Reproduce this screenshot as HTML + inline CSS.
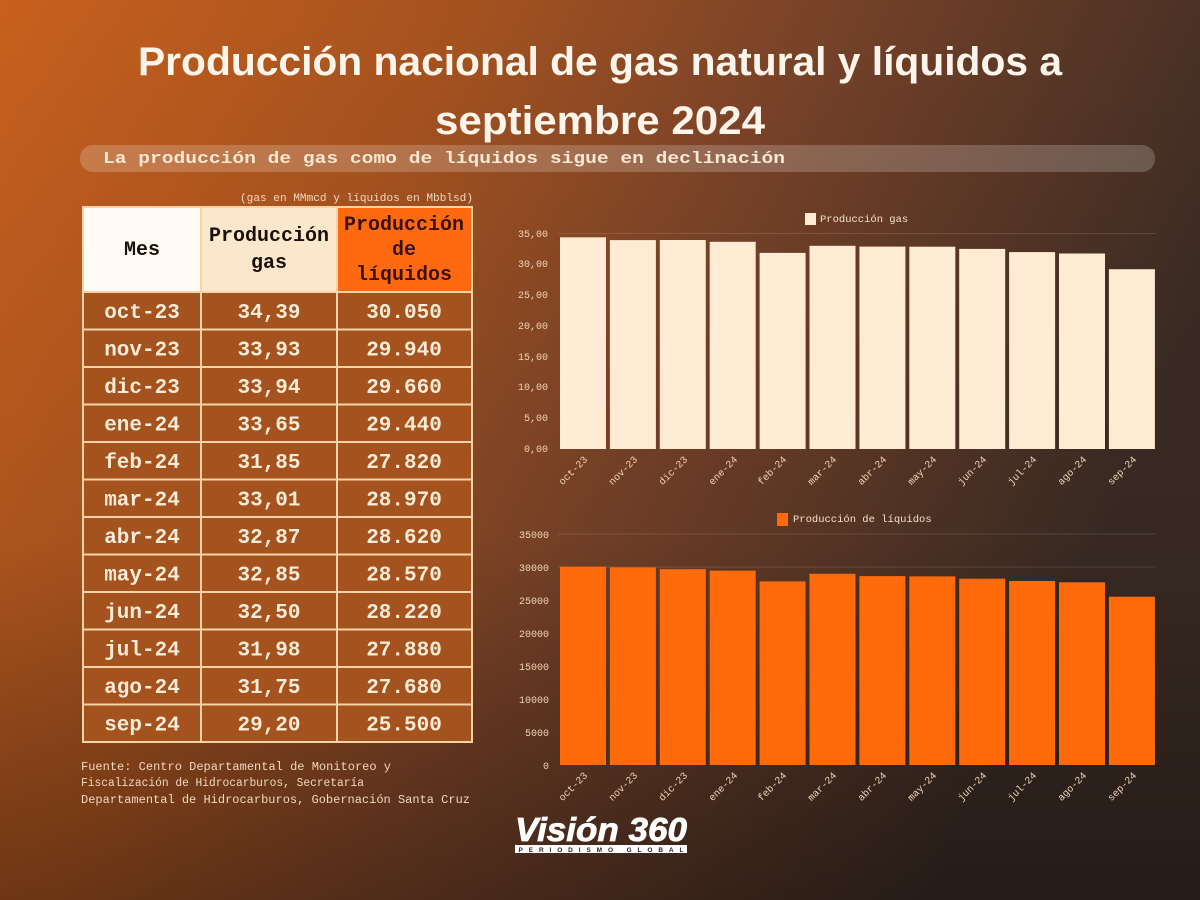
<!DOCTYPE html>
<html><head><meta charset="utf-8"><style>
html,body{margin:0;padding:0;width:1200px;height:900px;overflow:hidden;background:#6a3a20}
svg{display:block}
.m{font-family:"Liberation Mono",monospace}
</style></head><body>
<svg width="1200" height="900" viewBox="0 0 1200 900" xmlns="http://www.w3.org/2000/svg">
<defs>
<linearGradient id="bg" x1="0" y1="0" x2="1" y2="0.35">
<stop offset="0" stop-color="#c8601e"/>
<stop offset="0.35" stop-color="#a5521f"/>
<stop offset="0.6" stop-color="#7a4328"/>
<stop offset="1" stop-color="#3a2b24"/>
</linearGradient>
<linearGradient id="bg2" x1="0" y1="0" x2="0" y2="1">
<stop offset="0" stop-color="#000" stop-opacity="0"/>
<stop offset="0.6" stop-color="#000" stop-opacity="0.05"/>
<stop offset="1" stop-color="#000" stop-opacity="0.35"/>
</linearGradient>
</defs>
<rect width="1200" height="900" fill="url(#bg)"/>
<rect width="1200" height="900" fill="url(#bg2)"/>

<g font-family="'Liberation Sans Narrow','Liberation Sans',sans-serif" font-weight="bold" fill="#fff5ea" font-size="40" text-anchor="middle">
<text x="600" y="75" textLength="924" lengthAdjust="spacingAndGlyphs">Producción nacional de gas natural y líquidos a</text>
<text x="600" y="134" textLength="330" lengthAdjust="spacingAndGlyphs">septiembre 2024</text>
</g>
<rect x="80" y="145" width="1075" height="27" rx="13" fill="#ffffff" fill-opacity="0.2"/>
<text class="m" x="103" y="163" font-size="17" font-weight="bold" fill="#fbe8d2" textLength="682" lengthAdjust="spacingAndGlyphs">La producción de gas como de líquidos sigue en declinación</text>
<text class="m" x="473" y="201" font-size="11" fill="#f4d9bf" text-anchor="end" textLength="233" lengthAdjust="spacingAndGlyphs">(gas en MMmcd y líquidos en Mbblsd)</text>

<!-- table -->
<g>
<rect x="82" y="206" width="391" height="537" fill="#f6d4a6"/>
<rect x="84" y="208" width="116" height="83" fill="#fffaf3"/>
<rect x="202" y="208" width="134" height="83" fill="#fbe7cc"/>
<rect x="338" y="208" width="133" height="83" fill="#ff6a10"/>
<g class="m" font-weight="bold" font-size="20" text-anchor="middle" fill="#1a1008">
<text x="142" y="255">Mes</text>
<text x="269" y="241">Producción</text>
<text x="269" y="268">gas</text>
<text x="404" y="230" fill="#3a1205">Producción</text>
<text x="404" y="255" fill="#3a1205">de</text>
<text x="404" y="280" fill="#3a1205">líquidos</text>
</g>
<g fill="#a4521e">
<rect x="84" y="293" width="116" height="35.5"/><rect x="202" y="293" width="134" height="35.5"/><rect x="338" y="293" width="133" height="35.5"/>
<rect x="84" y="330.5" width="116" height="35.5"/><rect x="202" y="330.5" width="134" height="35.5"/><rect x="338" y="330.5" width="133" height="35.5"/>
<rect x="84" y="368" width="116" height="35.5"/><rect x="202" y="368" width="134" height="35.5"/><rect x="338" y="368" width="133" height="35.5"/>
<rect x="84" y="405.5" width="116" height="35.5"/><rect x="202" y="405.5" width="134" height="35.5"/><rect x="338" y="405.5" width="133" height="35.5"/>
<rect x="84" y="443" width="116" height="35.5"/><rect x="202" y="443" width="134" height="35.5"/><rect x="338" y="443" width="133" height="35.5"/>
<rect x="84" y="480.5" width="116" height="35.5"/><rect x="202" y="480.5" width="134" height="35.5"/><rect x="338" y="480.5" width="133" height="35.5"/>
<rect x="84" y="518" width="116" height="35.5"/><rect x="202" y="518" width="134" height="35.5"/><rect x="338" y="518" width="133" height="35.5"/>
<rect x="84" y="555.5" width="116" height="35.5"/><rect x="202" y="555.5" width="134" height="35.5"/><rect x="338" y="555.5" width="133" height="35.5"/>
<rect x="84" y="593" width="116" height="35.5"/><rect x="202" y="593" width="134" height="35.5"/><rect x="338" y="593" width="133" height="35.5"/>
<rect x="84" y="630.5" width="116" height="35.5"/><rect x="202" y="630.5" width="134" height="35.5"/><rect x="338" y="630.5" width="133" height="35.5"/>
<rect x="84" y="668" width="116" height="35.5"/><rect x="202" y="668" width="134" height="35.5"/><rect x="338" y="668" width="133" height="35.5"/>
<rect x="84" y="705.5" width="116" height="35.5"/><rect x="202" y="705.5" width="134" height="35.5"/><rect x="338" y="705.5" width="133" height="35.5"/>
</g>
<g class="m" font-weight="bold" font-size="21" text-anchor="middle" fill="#fcebd6">
<text x="142" y="318">oct-23</text><text x="269" y="318">34,39</text><text x="404" y="318">30.050</text>
<text x="142" y="355.5">nov-23</text><text x="269" y="355.5">33,93</text><text x="404" y="355.5">29.940</text>
<text x="142" y="393">dic-23</text><text x="269" y="393">33,94</text><text x="404" y="393">29.660</text>
<text x="142" y="430.5">ene-24</text><text x="269" y="430.5">33,65</text><text x="404" y="430.5">29.440</text>
<text x="142" y="468">feb-24</text><text x="269" y="468">31,85</text><text x="404" y="468">27.820</text>
<text x="142" y="505.5">mar-24</text><text x="269" y="505.5">33,01</text><text x="404" y="505.5">28.970</text>
<text x="142" y="543">abr-24</text><text x="269" y="543">32,87</text><text x="404" y="543">28.620</text>
<text x="142" y="580.5">may-24</text><text x="269" y="580.5">32,85</text><text x="404" y="580.5">28.570</text>
<text x="142" y="618">jun-24</text><text x="269" y="618">32,50</text><text x="404" y="618">28.220</text>
<text x="142" y="655.5">jul-24</text><text x="269" y="655.5">31,98</text><text x="404" y="655.5">27.880</text>
<text x="142" y="693">ago-24</text><text x="269" y="693">31,75</text><text x="404" y="693">27.680</text>
<text x="142" y="730.5">sep-24</text><text x="269" y="730.5">29,20</text><text x="404" y="730.5">25.500</text>
</g>
</g>

<g class="m" font-size="11.5" fill="#f4d9bf">
<text x="81" y="770" textLength="310" lengthAdjust="spacingAndGlyphs">Fuente: Centro Departamental de Monitoreo y</text>
<text x="81" y="786" textLength="283" lengthAdjust="spacingAndGlyphs">Fiscalización de Hidrocarburos, Secretaría</text>
<text x="81" y="803" textLength="389" lengthAdjust="spacingAndGlyphs">Departamental de Hidrocarburos, Gobernación Santa Cruz</text>
</g>

<!-- top chart -->
<rect x="805" y="213" width="11" height="12" fill="#fdebd3"/>
<text class="m" x="820" y="222" font-size="10.5" fill="#f6e1c8">Producción gas</text>
<line x1="558" y1="233.5" x2="1156" y2="233.5" stroke="#fff" stroke-opacity="0.12"/>
<g class="m" font-size="10" fill="#f2d5b8" text-anchor="end">
<text x="548" y="237">35,00</text><text x="548" y="267">30,00</text><text x="548" y="298">25,00</text><text x="548" y="329">20,00</text><text x="548" y="360">15,00</text><text x="548" y="390">10,00</text><text x="548" y="421">5,00</text><text x="548" y="452">0,00</text>
</g>
<g fill="#fdebd3">
<rect x="560" y="237.3" width="46" height="211.7"/>
<rect x="609.9" y="240.1" width="46" height="208.9"/>
<rect x="659.8" y="240" width="46" height="209"/>
<rect x="709.7" y="241.8" width="46" height="207.2"/>
<rect x="759.6" y="252.9" width="46" height="196.1"/>
<rect x="809.5" y="245.8" width="46" height="203.2"/>
<rect x="859.4" y="246.6" width="46" height="202.4"/>
<rect x="909.3" y="246.7" width="46" height="202.3"/>
<rect x="959.2" y="248.9" width="46" height="200.1"/>
<rect x="1009.1" y="252.1" width="46" height="196.9"/>
<rect x="1059" y="253.5" width="46" height="195.5"/>
<rect x="1108.9" y="269.2" width="46" height="179.8"/>
</g>
<g class="m" font-size="10" fill="#f2d5b8" text-anchor="end">
<text transform="translate(588,460) rotate(-45)">oct-23</text>
<text transform="translate(638,460) rotate(-45)">nov-23</text>
<text transform="translate(688,460) rotate(-45)">dic-23</text>
<text transform="translate(738,460) rotate(-45)">ene-24</text>
<text transform="translate(787,460) rotate(-45)">feb-24</text>
<text transform="translate(837,460) rotate(-45)">mar-24</text>
<text transform="translate(887,460) rotate(-45)">abr-24</text>
<text transform="translate(937,460) rotate(-45)">may-24</text>
<text transform="translate(987,460) rotate(-45)">jun-24</text>
<text transform="translate(1037,460) rotate(-45)">jul-24</text>
<text transform="translate(1087,460) rotate(-45)">ago-24</text>
<text transform="translate(1137,460) rotate(-45)">sep-24</text>
</g>

<!-- bottom chart -->
<rect x="777" y="513" width="11" height="13" fill="#ff6a10"/>
<text class="m" x="793" y="522" font-size="10.5" fill="#f6e1c8">Producción de líquidos</text>
<line x1="558" y1="534" x2="1156" y2="534" stroke="#fff" stroke-opacity="0.12"/>
<line x1="558" y1="567" x2="1156" y2="567" stroke="#fff" stroke-opacity="0.12"/>
<g class="m" font-size="10" fill="#f2d5b8" text-anchor="end">
<text x="549" y="538">35000</text><text x="549" y="571">30000</text><text x="549" y="604">25000</text><text x="549" y="637">20000</text><text x="549" y="670">15000</text><text x="549" y="703">10000</text><text x="549" y="736">5000</text><text x="549" y="769">0</text>
</g>
<g fill="#ff6a0a">
<rect x="560" y="566.7" width="46" height="198.3"/>
<rect x="609.9" y="567.4" width="46" height="197.6"/>
<rect x="659.8" y="569.2" width="46" height="195.8"/>
<rect x="709.7" y="570.7" width="46" height="194.3"/>
<rect x="759.6" y="581.4" width="46" height="183.6"/>
<rect x="809.5" y="573.8" width="46" height="191.2"/>
<rect x="859.4" y="576.1" width="46" height="188.9"/>
<rect x="909.3" y="576.4" width="46" height="188.6"/>
<rect x="959.2" y="578.7" width="46" height="186.3"/>
<rect x="1009.1" y="581" width="46" height="184"/>
<rect x="1059" y="582.3" width="46" height="182.7"/>
<rect x="1108.9" y="596.7" width="46" height="168.3"/>
</g>
<g class="m" font-size="10" fill="#f2d5b8" text-anchor="end">
<text transform="translate(588,776) rotate(-45)">oct-23</text>
<text transform="translate(638,776) rotate(-45)">nov-23</text>
<text transform="translate(688,776) rotate(-45)">dic-23</text>
<text transform="translate(738,776) rotate(-45)">ene-24</text>
<text transform="translate(787,776) rotate(-45)">feb-24</text>
<text transform="translate(837,776) rotate(-45)">mar-24</text>
<text transform="translate(887,776) rotate(-45)">abr-24</text>
<text transform="translate(937,776) rotate(-45)">may-24</text>
<text transform="translate(987,776) rotate(-45)">jun-24</text>
<text transform="translate(1037,776) rotate(-45)">jul-24</text>
<text transform="translate(1087,776) rotate(-45)">ago-24</text>
<text transform="translate(1137,776) rotate(-45)">sep-24</text>
</g>

<!-- logo -->
<text x="515" y="841" font-family="'Liberation Sans',sans-serif" font-weight="bold" font-style="italic" font-size="33" fill="#ffffff" stroke="#ffffff" stroke-width="0.8" textLength="172" lengthAdjust="spacingAndGlyphs">Visión 360</text>
<rect x="515" y="845" width="172" height="8" fill="#ffffff"/>
<text x="601" y="852" font-family="'Liberation Sans',sans-serif" font-weight="bold" font-size="6.5" fill="#222" text-anchor="middle" textLength="165" lengthAdjust="spacing">PERIODISMO GLOBAL</text>
</svg>
</body></html>
